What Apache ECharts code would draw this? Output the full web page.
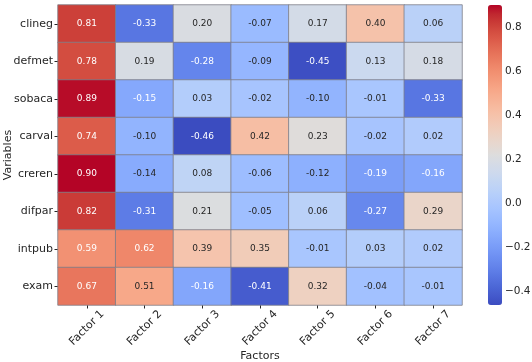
<!DOCTYPE html>
<html>
<head>
<meta charset="utf-8">
<script src="https://cdn.jsdelivr.net/npm/echarts@6/dist/echarts.min.js"></script>
<style>
  html, body { margin: 0; padding: 0; background: #fff; }
  #chart { width: 532px; height: 362px; }
</style>
</head>
<body>
<div id="chart"></div>
<script>
const variables = ['clineg', 'defmet', 'sobaca', 'carval', 'creren', 'difpar', 'intpub', 'exam'];
const factors = ['Factor 1', 'Factor 2', 'Factor 3', 'Factor 4', 'Factor 5', 'Factor 6', 'Factor 7'];

// loadings per variable, Factor 1..7
const clineg = [0.81, -0.33, 0.20, -0.07, 0.17, 0.40, 0.06];
const defmet = [0.78, 0.19, -0.28, -0.09, -0.45, 0.13, 0.18];
const sobaca = [0.89, -0.15, 0.03, -0.02, -0.10, -0.01, -0.33];
const carval = [0.74, -0.10, -0.46, 0.42, 0.23, -0.02, 0.02];
const creren = [0.90, -0.14, 0.08, -0.06, -0.12, -0.19, -0.16];
const difpar = [0.82, -0.31, 0.21, -0.05, 0.06, -0.27, 0.29];
const intpub = [0.59, 0.62, 0.39, 0.35, -0.01, 0.03, 0.02];
const exam = [0.67, 0.51, -0.16, -0.41, 0.32, -0.04, -0.01];
const rows = [clineg, defmet, sobaca, carval, creren, difpar, intpub, exam];

const vmin = -0.46;
const vmax = 0.90;

// matplotlib coolwarm
const coolwarm = [
  [59, 76, 192], [68, 90, 204], [77, 104, 215], [87, 117, 225], [98, 130, 234],
  [108, 142, 241], [119, 154, 247], [130, 165, 251], [141, 176, 254], [152, 185, 255],
  [163, 194, 255], [174, 201, 253], [184, 208, 249], [194, 213, 244], [204, 217, 238],
  [213, 219, 230], [221, 221, 221], [229, 216, 209], [236, 211, 197], [241, 204, 185],
  [245, 196, 173], [247, 187, 160], [247, 177, 148], [247, 166, 135], [244, 154, 123],
  [241, 141, 111], [236, 127, 99], [229, 112, 88], [222, 96, 77], [213, 80, 66],
  [203, 62, 56], [192, 40, 47], [180, 4, 38]
];
const cmapColors = coolwarm.map(c => 'rgb(' + c.join(',') + ')');

function cmap(v) {
  const t = Math.min(1, Math.max(0, (v - vmin) / (vmax - vmin))) * (coolwarm.length - 1);
  const i = Math.min(coolwarm.length - 2, Math.floor(t));
  const f = t - i;
  return coolwarm[i].map((c, k) => c + (coolwarm[i + 1][k] - c) * f);
}

function textColor(v) {
  const lin = cmap(v).map(c => {
    c = c / 255;
    return c <= 0.03928 ? c / 12.92 : Math.pow((c + 0.055) / 1.055, 2.4);
  });
  const lum = 0.2126 * lin[0] + 0.7152 * lin[1] + 0.0722 * lin[2];
  return lum > 0.408 ? '#262626' : '#ffffff';
}

const cells = [];
rows.forEach((row, y) => {
  row.forEach((v, x) => {
    cells.push({value: [x, y, v], label: {color: textColor(v)}});
  });
});

const font = 'DejaVu Sans';
const ink = '#262626';

// colorbar axis: put grid so that the 0.2-step ticks line up with the bar
const barTop = 5, barH = 300;
const tickMin = -0.4, tickMax = 0.8;
const scaleY = barH / (vmax - vmin);

const chart = echarts.init(document.getElementById('chart'));
chart.setOption({
  animation: false,
  textStyle: {fontFamily: font},
  grid: [
    {left: 58, top: 5, width: 404, height: 300, outerBoundsMode: 'none', containLabel: false},
    {
      left: 488, top: barTop + (vmax - tickMax) * scaleY, width: 14, height: (tickMax - tickMin) * scaleY,
      outerBoundsMode: 'none', containLabel: false
    }
  ],
  xAxis: [
    {
      type: 'category',
      gridIndex: 0,
      data: factors,
      name: 'Factors',
      nameLocation: 'middle',
      nameGap: 46,
      nameMoveOverlap: false,
      nameTextStyle: {fontSize: 11, color: ink},
      axisLine: {show: false},
      axisTick: {show: true, alignWithLabel: true, length: 3.5, lineStyle: {color: ink}},
      axisLabel: {rotate: 45, align: 'center', verticalAlign: 'middle', fontSize: 11, color: ink, margin: 23},
      splitLine: {show: false}
    },
    {type: 'value', gridIndex: 1, show: false}
  ],
  yAxis: [
    {
      type: 'category',
      gridIndex: 0,
      data: variables,
      inverse: true,
      name: 'Variables',
      nameLocation: 'middle',
      nameGap: 44,
      nameMoveOverlap: false,
      nameTextStyle: {fontSize: 11, color: ink},
      axisLine: {show: false},
      axisTick: {show: true, alignWithLabel: true, length: 3.5, lineStyle: {color: ink}},
      axisLabel: {fontSize: 11, color: ink, margin: 5},
      splitLine: {show: false}
    },
    {
      type: 'value',
      gridIndex: 1,
      position: 'right',
      min: tickMin,
      max: tickMax,
      interval: 0.2,
      axisLine: {show: false},
      axisTick: {show: true, length: 3.5, lineStyle: {color: ink}},
      axisLabel: {
        fontSize: 10.5, color: ink, margin: 3,
        formatter: v => v.toFixed(1).replace('-', '\u2212')
      },
      splitLine: {show: false}
    }
  ],
  visualMap: {
    type: 'continuous',
    seriesIndex: 0,
    min: vmin,
    max: vmax,
    calculable: false,
    orient: 'vertical',
    left: 488,
    top: barTop,
    padding: 0,
    itemWidth: 14,
    itemHeight: barH,
    text: null,
    inRange: {color: cmapColors}
  },
  series: [
    {
      type: 'heatmap',
      xAxisIndex: 0,
      yAxisIndex: 0,
      data: cells,
      itemStyle: {borderColor: '#7d7d88', borderWidth: 0.8},
      label: {
        show: true,
        fontSize: 9,
        fontFamily: font,
        formatter: p => p.value[2].toFixed(2)
      },
      emphasis: {disabled: true}
    },
    {
      type: 'line',
      xAxisIndex: 1,
      yAxisIndex: 1,
      data: [],
      silent: true
    }
  ]
});
</script>
</body>
</html>
